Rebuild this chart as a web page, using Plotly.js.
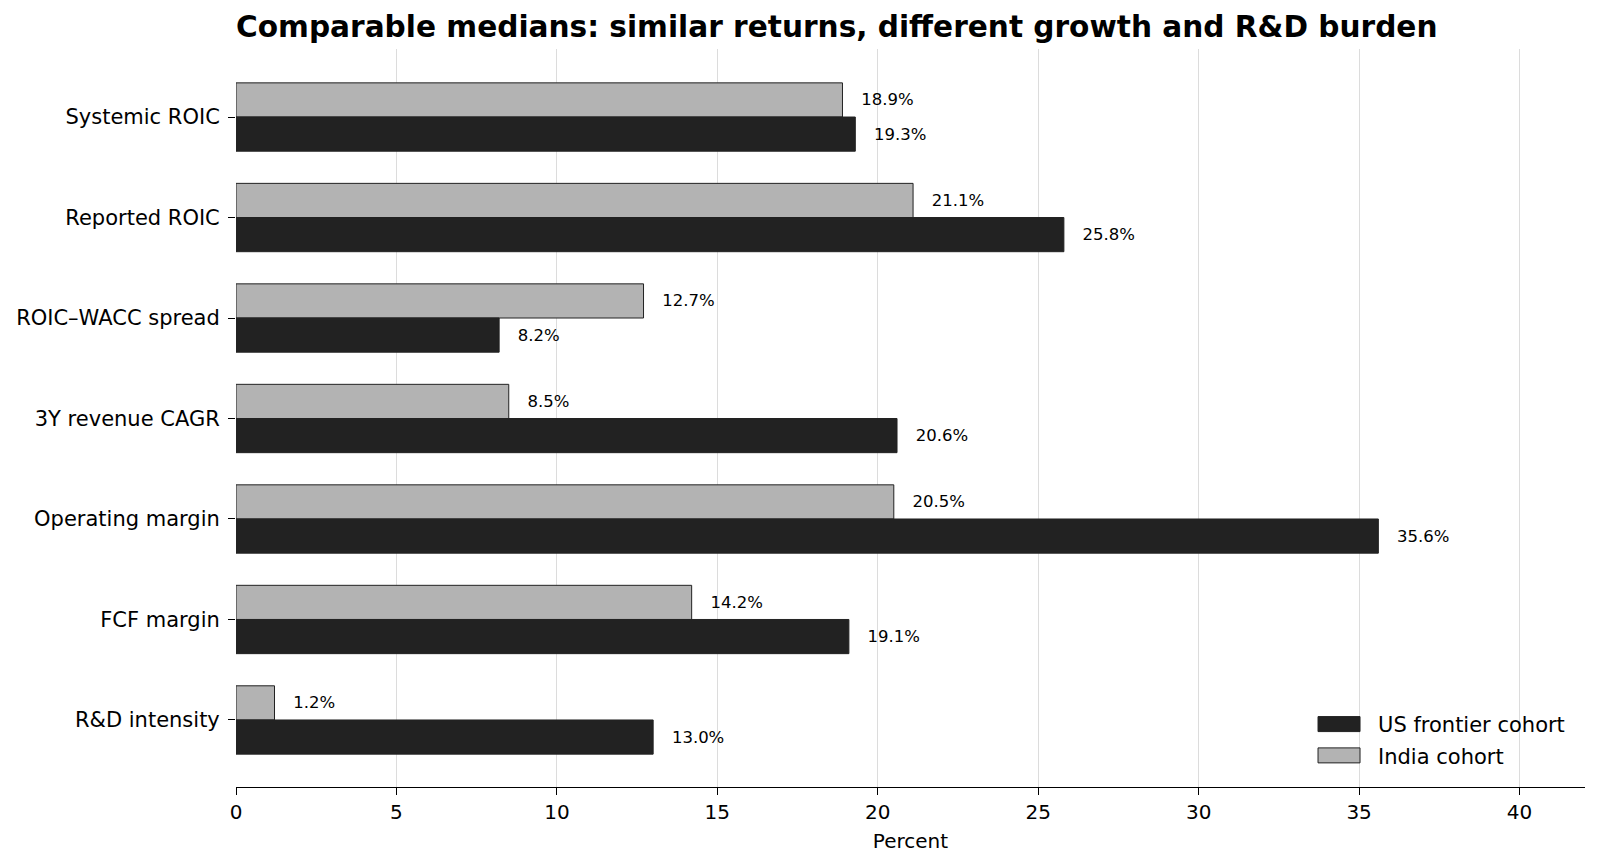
<!DOCTYPE html>
<html>
<head>
<meta charset="utf-8">
<script src="https://cdn.plot.ly/plotly-3.0.1.min.js"></script>
<style>
  html, body { margin: 0; padding: 0; background: #ffffff; }
  #chart { width: 1600px; height: 867px; }
</style>
</head>
<body>
<div id="chart"></div>
<script>
const categories = ["Systemic ROIC", "Reported ROIC", "ROIC\u2013WACC spread", "3Y revenue CAGR", "Operating margin", "FCF margin", "R&D intensity"];
const usValues = [19.3, 25.8, 8.2, 20.6, 35.6, 19.1, 13.0];
const indiaValues = [18.9, 21.1, 12.7, 8.5, 20.5, 14.2, 1.2];
const xTicks = [0, 5, 10, 15, 20, 25, 30, 35, 40];

const FONT = "DejaVu Sans, sans-serif";
const pad = "\u00a0\u00a0\u00a0";
function labels(vals) { return vals.map(v => pad + v.toFixed(1) + "%"); }

const india = {
  type: "bar", orientation: "h", name: "India cohort", legendgroup: "india",
  y: categories, x: indiaValues,
  marker: { color: "#b3b3b3", line: { color: "#222222", width: 1 } },
  text: labels(indiaValues), textposition: "outside", constraintext: "none",
  cliponaxis: false,
  outsidetextfont: { family: FONT, size: 16.5, color: "#000000" },
  hoverinfo: "x+name", legendrank: 2
};
const us = {
  type: "bar", orientation: "h", name: "US frontier cohort", legendgroup: "us",
  y: categories, x: usValues,
  marker: { color: "#222222", line: { color: "#222222", width: 1 } },
  text: labels(usValues), textposition: "outside", constraintext: "none",
  cliponaxis: false,
  outsidetextfont: { family: FONT, size: 16.5, color: "#000000" },
  hoverinfo: "x+name", legendrank: 1
};

const layout = {
  width: 1600, height: 867,
  paper_bgcolor: "#ffffff", plot_bgcolor: "#ffffff",
  font: { family: FONT, size: 20, color: "#000000" },
  margin: { l: 236, r: 15, t: 49, b: 80 },
  barmode: "group", bargap: 0.32, bargroupgap: 0,
  title: {
    text: "<b>Comparable medians: similar returns, different growth and R&D burden</b>",
    font: { family: FONT, size: 29.6, color: "#000000" },
    x: 236 / 1600, xref: "container", xanchor: "left",
    y: 1 - 27 / 867, yref: "container", yanchor: "middle"
  },
  xaxis: {
    range: [0, 42.04], tickvals: xTicks, ticktext: xTicks.map(String),
    showgrid: true, gridcolor: "#dcdcdc", gridwidth: 1, zeroline: false,
    showline: true, linecolor: "#000000", linewidth: 1.3,
    ticks: "outside", ticklen: 7, tickwidth: 1.3, tickcolor: "#000000",
    tickfont: { family: FONT, size: 20 },
    title: { text: "Percent", font: { family: FONT, size: 20 }, standoff: 10 }
  },
  yaxis: {
    type: "category", categoryorder: "array", categoryarray: categories,
    range: [6.667, -0.677],
    showgrid: false, zeroline: false, showline: false,
    ticks: "outside", ticklen: 7, tickwidth: 1.3, tickcolor: "#000000",
    ticklabelstandoff: 4,
    tickfont: { family: FONT, size: 21 }
  },
  legend: {
    x: 0.9889, xanchor: "right", y: 0.015, yanchor: "bottom",
    bgcolor: "rgba(255,255,255,0)", borderwidth: 0,
    font: { family: FONT, size: 21 }, tracegroupgap: 1,
    itemwidth: 60, traceorder: "grouped"
  },
  showlegend: true
};

Plotly.newPlot("chart", [india, us], layout, { displayModeBar: false, responsive: false }).then(gd => {
  // widen legend swatches into matplotlib-style rectangles placed before the text
  gd.querySelectorAll(".legend .traces").forEach(tr => {
    const txt = tr.querySelector("text.legendtext");
    const tx = txt ? parseFloat(txt.getAttribute("x")) : 40;
    const pts = tr.querySelector(".legendpoints");
    if (!pts) return;
    pts.querySelectorAll("path").forEach(p => {
      p.setAttribute("d", "M21,7.5H-21V-7.5H21Z");
      p.setAttribute("transform", "translate(" + (tx - 39) + ",0)");
    });
  });
});
</script>
</body>
</html>
